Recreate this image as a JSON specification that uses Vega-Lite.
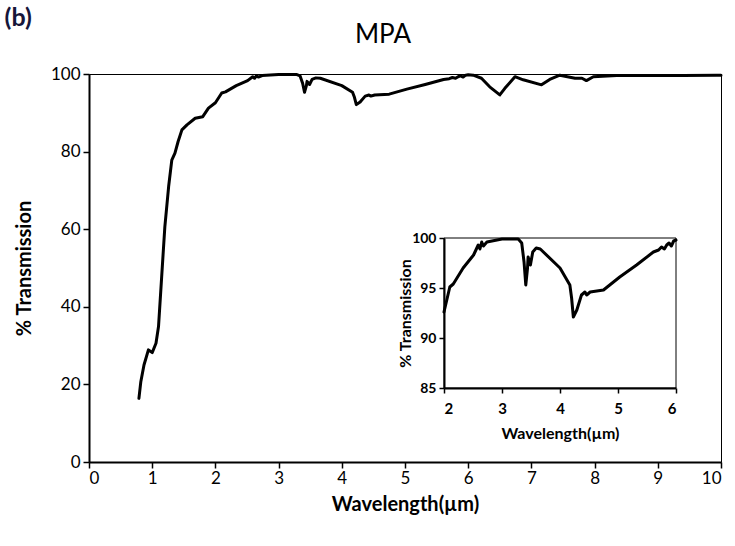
{
  "$schema": "https://vega.github.io/schema/vega-lite/v6.json",
  "width": 632,
  "height": 388,
  "autosize": {"type": "none"},
  "padding": {"left": 89, "top": 74, "right": 14, "bottom": 84},
  "background": "white",
  "config": {
    "view": {"stroke": "black", "strokeWidth": 1},
    "font": "Lato"
  },
  "title": {
    "text": "MPA",
    "font": "Lato",
    "fontSize": 26,
    "fontWeight": "normal",
    "color": "black",
    "anchor": "middle",
    "frame": "group",
    "dx": -22,
    "baseline": "alphabetic",
    "offset": -63
  },
  "datasets": {
    "mpa": [
      {"w": 0.79, "t": 16.4}, {"w": 0.82, "t": 20.7}, {"w": 0.87, "t": 25.0}, {"w": 0.94, "t": 28.9},
      {"w": 1.00, "t": 28.2}, {"w": 1.06, "t": 30.6}, {"w": 1.10, "t": 34.9}, {"w": 1.15, "t": 47.8},
      {"w": 1.20, "t": 60.6}, {"w": 1.26, "t": 71.0}, {"w": 1.31, "t": 77.8}, {"w": 1.36, "t": 79.6},
      {"w": 1.41, "t": 82.6}, {"w": 1.47, "t": 85.6}, {"w": 1.55, "t": 86.9}, {"w": 1.68, "t": 88.6},
      {"w": 1.80, "t": 89.0}, {"w": 1.89, "t": 91.2}, {"w": 2.00, "t": 92.6}, {"w": 2.10, "t": 95.1},
      {"w": 2.16, "t": 95.4}, {"w": 2.33, "t": 97.0}, {"w": 2.51, "t": 98.3}, {"w": 2.59, "t": 99.3},
      {"w": 2.62, "t": 98.9}, {"w": 2.65, "t": 99.6}, {"w": 2.68, "t": 99.2}, {"w": 2.74, "t": 99.6},
      {"w": 3.00, "t": 99.9}, {"w": 3.28, "t": 99.9}, {"w": 3.34, "t": 99.5}, {"w": 3.38, "t": 97.6},
      {"w": 3.41, "t": 95.3}, {"w": 3.44, "t": 97.0}, {"w": 3.45, "t": 98.1}, {"w": 3.49, "t": 97.3},
      {"w": 3.53, "t": 98.6}, {"w": 3.59, "t": 99.0}, {"w": 3.66, "t": 98.9}, {"w": 4.00, "t": 97.0},
      {"w": 4.17, "t": 95.3}, {"w": 4.20, "t": 94.0}, {"w": 4.23, "t": 92.1}, {"w": 4.29, "t": 92.8},
      {"w": 4.37, "t": 94.3}, {"w": 4.43, "t": 94.6}, {"w": 4.46, "t": 94.3}, {"w": 4.52, "t": 94.6},
      {"w": 4.75, "t": 94.8}, {"w": 5.03, "t": 96.1}, {"w": 5.32, "t": 97.3}, {"w": 5.61, "t": 98.6},
      {"w": 5.70, "t": 98.8}, {"w": 5.75, "t": 99.1}, {"w": 5.80, "t": 98.9}, {"w": 5.84, "t": 99.3},
      {"w": 5.88, "t": 99.5}, {"w": 5.92, "t": 99.2}, {"w": 5.96, "t": 99.7},
      {"w": 6.00, "t": 99.8}, {"w": 6.08, "t": 99.7}, {"w": 6.21, "t": 98.9},
      {"w": 6.34, "t": 96.7}, {"w": 6.50, "t": 94.6}, {"w": 6.58, "t": 96.3}, {"w": 6.74, "t": 99.3},
      {"w": 6.87, "t": 98.5}, {"w": 7.16, "t": 97.2}, {"w": 7.29, "t": 98.6}, {"w": 7.45, "t": 99.7},
      {"w": 7.51, "t": 99.5}, {"w": 7.69, "t": 98.9}, {"w": 7.80, "t": 98.9}, {"w": 7.87, "t": 98.3},
      {"w": 7.98, "t": 99.3}, {"w": 8.35, "t": 99.6}, {"w": 8.88, "t": 99.6}, {"w": 9.40, "t": 99.6},
      {"w": 9.93, "t": 99.7}, {"w": 10.0, "t": 99.7}
    ],
    "label": [{"label": "(b)"}]
  },
  "layer": [
    {
      "layer": [
        {
          "data": {"name": "mpa"},
          "mark": {"type": "line", "color": "black", "strokeWidth": 3, "strokeJoin": "round", "strokeCap": "round"},
          "encoding": {
            "x": {
              "field": "w", "type": "quantitative",
              "scale": {"domain": [0, 10], "nice": false, "zero": false},
              "axis": {
                "title": "Wavelength(µm)", "values": [0, 1, 2, 3, 4, 5, 6, 7, 8, 9, 10], "format": "d",
                "grid": false, "domainColor": "black", "domainWidth": 2,
                "tickColor": "black", "tickWidth": 1.5, "tickSize": 6,
                "labelColor": "black", "labelFont": "Lato", "labelFontSize": 17, "labelPadding": 2,
                "titleColor": "black", "titleFont": "Lato", "titleFontSize": 20, "titleFontWeight": "bold", "titlePadding": 8
              }
            },
            "y": {
              "field": "t", "type": "quantitative",
              "scale": {"domain": [0, 100], "nice": false, "zero": false},
              "axis": {
                "title": "% Transmission", "values": [0, 20, 40, 60, 80, 100],
                "grid": false, "domainColor": "black", "domainWidth": 2,
                "tickColor": "black", "tickWidth": 1.5, "tickSize": 6,
                "labelColor": "black", "labelFont": "Lato", "labelFontSize": 17, "labelPadding": 3,
                "titleColor": "black", "titleFont": "Lato", "titleFontSize": 20, "titleFontWeight": "bold", "titlePadding": 16
              }
            }
          }
        },
        {
          "data": {"name": "label"},
          "mark": {"type": "text", "font": "Lato", "fontSize": 25, "fontWeight": "bold", "color": "#16163a", "align": "center", "baseline": "middle"},
          "encoding": {
            "x": {"datum": -1.12, "type": "quantitative", "scale": {"domain": [0, 10], "nice": false, "zero": false}},
            "y": {"datum": 114.4, "type": "quantitative", "scale": {"domain": [0, 100], "nice": false, "zero": false}},
            "text": {"field": "label", "type": "nominal"}
          }
        }
      ]
    },
    {
      "layer": [
        {
          "data": {"name": "mpa"},
          "transform": [{"filter": "datum.w >= 2 && datum.w <= 6"}],
          "mark": {"type": "line", "color": "black", "strokeWidth": 3, "strokeJoin": "round", "strokeCap": "round"},
          "encoding": {
            "x": {
              "field": "w", "type": "quantitative",
              "scale": {"domain": [2, 6], "range": [355, 587], "nice": false, "zero": false},
              "axis": {
                "orient": "bottom", "offset": -74,
                "title": "Wavelength(µm)", "values": [2, 3, 4, 5, 6], "format": "d",
                "grid": false, "domainColor": "black", "domainWidth": 2,
                "tickColor": "black", "tickWidth": 1.5, "tickSize": 5,
                "labelColor": "black", "labelFont": "Lato", "labelFontSize": 15, "labelFontWeight": "bold", "labelPadding": 8,
                "titleColor": "black", "titleFont": "Lato", "titleFontSize": 16, "titleFontWeight": "bold", "titlePadding": 9
              }
            },
            "y": {
              "field": "t", "type": "quantitative",
              "scale": {"domain": [85, 100], "range": [314, 164], "nice": false, "zero": false},
              "axis": {
                "orient": "left", "offset": -355,
                "title": "% Transmission", "values": [85, 90, 95, 100],
                "grid": false, "domainColor": "black", "domainWidth": 2,
                "tickColor": "black", "tickWidth": 1.5, "tickSize": 5,
                "labelColor": "black", "labelFont": "Lato", "labelFontSize": 14, "labelFontWeight": "bold", "labelPadding": 3,
                "titleColor": "black", "titleFont": "Lato", "titleFontSize": 16, "titleFontWeight": "bold", "titlePadding": -2
              }
            }
          }
        },
        {
          "data": {"name": "label"},
          "mark": {"type": "rect", "filled": false, "stroke": "black", "strokeWidth": 1},
          "encoding": {
            "x": {"datum": 2, "type": "quantitative", "scale": {"domain": [2, 6], "range": [355, 587], "nice": false, "zero": false}},
            "x2": {"datum": 6},
            "y": {"datum": 85, "type": "quantitative", "scale": {"domain": [85, 100], "range": [314, 164], "nice": false, "zero": false}},
            "y2": {"datum": 100}
          }
        }
      ]
    }
  ],
  "resolve": {
    "scale": {"x": "independent", "y": "independent"},
    "axis": {"x": "independent", "y": "independent"}
  }
}
